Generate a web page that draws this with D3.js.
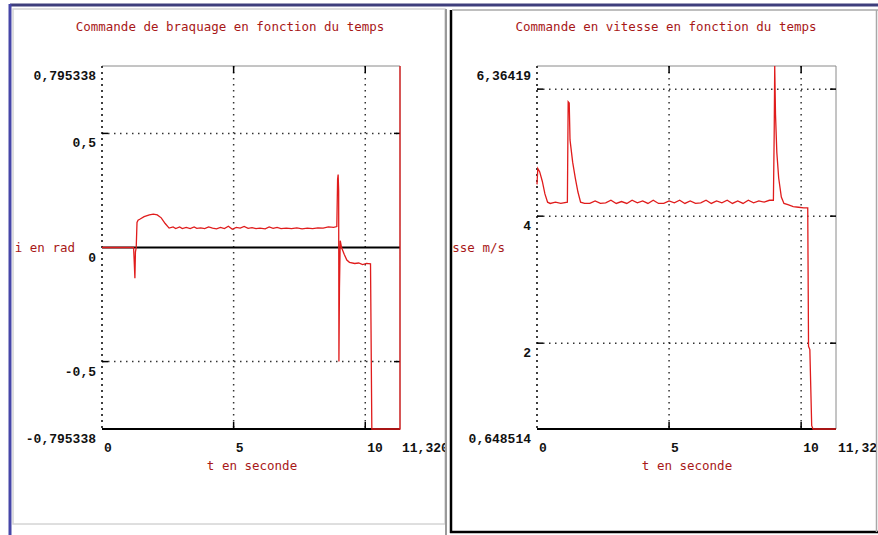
<!DOCTYPE html>
<html>
<head>
<meta charset="utf-8">
<script src="https://cdn.jsdelivr.net/npm/d3@7"></script>
<style>
  body { margin: 0; background: #fff; }
  svg { display: block; }
  .ttl, .lab { font-family: "DejaVu Sans Mono", monospace; font-size: 12.5px; fill: #a81818; }
  .tk { font-family: "Liberation Mono", monospace; font-size: 13px; font-weight: bold; fill: #111; }
</style>
</head>
<body>
<svg id="chart" width="878" height="535"></svg>
<script>
// ---- data ----
const xTicks      = [0, 5, 10, 11.32];
const xTickLabels = ['0', '5', '10', '11,320'];

// left: commande de braquage (rad)
const brqYTicks  = [-0.795338, -0.5, 0, 0.5, 0.795338];
const brqYLabels = ['-0,795338', '-0,5', '0', '0,5', '0,795338'];
const brqGrid    = [-0.5, 0.5];
const brqTime  = [0, 1.2, 1.22, 1.25, 1.27, 1.3, 1.33, 1.37, 1.45, 1.6, 1.8, 1.95, 2.1, 2.25, 2.4, 2.55,
                  2.7, 2.8, 2.95, 3.05, 3.2, 3.35, 3.5, 3.6, 3.75, 3.9, 4.05, 4.2, 4.35, 4.5, 4.65, 4.8,
                  4.95, 5.1, 5.25, 5.4, 5.55, 5.7, 5.85, 6.0, 6.2, 6.35, 6.5, 6.65, 6.8, 7.0, 7.2, 7.4,
                  7.6, 7.8, 8.0, 8.2, 8.4, 8.6, 8.8, 8.92, 8.95, 8.97, 8.99, 9.0, 9.02, 9.05, 9.1, 9.2,
                  9.3, 9.4, 9.6, 9.75, 9.9, 10.05, 10.2, 10.25, 11.32, 11.32];
const brqValue = [0, 0, -0.05, -0.135, -0.02, 0, 0.11, 0.12, 0.125, 0.135, 0.143, 0.146, 0.143, 0.13, 0.105, 0.085,
                  0.09, 0.083, 0.09, 0.083, 0.088, 0.083, 0.09, 0.084, 0.086, 0.083, 0.09, 0.085, 0.082, 0.088, 0.083, 0.093,
                  0.08, 0.088, 0.085, 0.092, 0.084, 0.087, 0.083, 0.085, 0.082, 0.09, 0.084, 0.088, 0.083, 0.085, 0.083, 0.086,
                  0.082, 0.085, 0.083, 0.086, 0.085, 0.09, 0.088, 0.092, 0.3, 0.32, 0.25, -0.5, -0.18, 0.03, 0, -0.03,
                  -0.055, -0.065, -0.07, -0.068, -0.075, -0.07, -0.072, -0.795338, -0.795338, 0.795338];

// right: commande en vitesse (m/s)
const vitYTicks  = [0.648514, 2, 4, 6.36419];
const vitYLabels = ['0,648514', '2', '4', '6,36419'];
const vitGrid    = [2, 4, 6];
const vitTime  = [0, 0.03, 0.1, 0.2, 0.3, 0.4, 0.5, 0.7, 0.9, 1.15, 1.18, 1.22, 1.25, 1.35, 1.45, 1.55, 1.65,
                  1.8, 2.0, 2.2, 2.4, 2.6, 2.8, 3.0, 3.2, 3.4, 3.6, 3.8, 4.0, 4.2, 4.4, 4.6, 4.8, 5.0, 5.2,
                  5.4, 5.6, 5.8, 6.0, 6.2, 6.4, 6.6, 6.8, 7.0, 7.2, 7.4, 7.6, 7.8, 8.0, 8.2, 8.4, 8.6, 8.8,
                  8.95, 8.98, 9.0, 9.03, 9.08, 9.15, 9.25, 9.35, 9.5, 9.7, 9.9, 10.1, 10.25, 10.28, 10.33,
                  10.4, 10.45, 11.32];
const vitValue = [4.5, 4.75, 4.7, 4.55, 4.35, 4.22, 4.2, 4.22, 4.2, 4.22, 5.8, 5.78, 5.2, 4.85, 4.6, 4.38, 4.22,
                  4.2, 4.2, 4.24, 4.2, 4.21, 4.25, 4.2, 4.23, 4.2, 4.25, 4.21, 4.24, 4.2, 4.25, 4.2, 4.2, 4.24, 4.21,
                  4.25, 4.2, 4.24, 4.2, 4.21, 4.25, 4.2, 4.24, 4.21, 4.25, 4.2, 4.24, 4.2, 4.25, 4.21, 4.24, 4.22, 4.25,
                  4.25, 5.3, 6.36419, 5.6, 5.0, 4.6, 4.3, 4.2, 4.18, 4.15, 4.14, 4.13, 4.13, 1.95, 1.9,
                  0.7, 0.648514, 0.648514];

const svg = d3.select('#chart');
const RED = '#e01c1c';

// window frame
svg.append('rect').attr('x', 10).attr('y', 4).attr('width', 868).attr('height', 531).attr('fill', '#fff');
svg.append('line').attr('x1', 10).attr('x2', 878).attr('y1', 5).attr('y2', 5).attr('stroke', '#3e3e7c').attr('stroke-width', 3);
svg.append('line').attr('x1', 10).attr('x2', 10).attr('y1', 4).attr('y2', 535).attr('stroke', '#4646a8').attr('stroke-width', 3);
// left panel border
svg.append('rect').attr('x', 13).attr('y', 9).attr('width', 432).attr('height', 515)
    .attr('fill', 'none').attr('stroke', '#d4d4d4').attr('stroke-width', 1.5);
svg.append('line').attr('x1', 446).attr('x2', 446).attr('y1', 9).attr('y2', 535).attr('stroke', '#9a9a9a').attr('stroke-width', 2);
// right panel border
svg.append('line').attr('x1', 451).attr('x2', 451).attr('y1', 10).attr('y2', 533).attr('stroke', '#000').attr('stroke-width', 2.5);
svg.append('line').attr('x1', 450).attr('x2', 878).attr('y1', 532).attr('y2', 532).attr('stroke', '#000').attr('stroke-width', 2.5);
svg.append('line').attr('x1', 452).attr('x2', 878).attr('y1', 10).attr('y2', 10).attr('stroke', '#a8a8a8').attr('stroke-width', 1.5);
svg.append('line').attr('x1', 876.5).attr('x2', 876.5).attr('y1', 10).attr('y2', 532).attr('stroke', '#a8a8a8').attr('stroke-width', 1.5);

const defs = svg.append('defs');
defs.append('clipPath').attr('id', 'clipL').append('rect').attr('x', 12).attr('y', 0).attr('width', 433).attr('height', 535);
defs.append('clipPath').attr('id', 'clipR').append('rect').attr('x', 453).attr('y', 0).attr('width', 423).attr('height', 535);

function drawPanel(o) {
    const x = d3.scaleLinear().domain([0, 11.32]).range(o.xr);
    const y = d3.scaleLinear().domain(o.yd).range([429, 66]);
    const g = svg.append('g').attr('clip-path', `url(#${o.clip})`);
    const [x0, x1] = o.xr;

    g.append('text').attr('class', 'ttl').attr('x', o.titleX).attr('y', 31)
        .attr('text-anchor', 'middle').text(o.title);

    // frame of plot box
    g.append('line').attr('x1', x0).attr('x2', x1).attr('y1', 66).attr('y2', 66).attr('stroke', '#8a8a8a');
    g.append('line').attr('x1', x1).attr('x2', x1).attr('y1', 66).attr('y2', 429).attr('stroke', '#8a8a8a');
    g.append('line').attr('x1', x0).attr('x2', x0).attr('y1', 66).attr('y2', 429)
        .attr('stroke', '#000').attr('stroke-width', 1.5).attr('stroke-dasharray', '2,4');

    // dotted grid
    g.selectAll('.gx').data([5, 10]).join('line')
        .attr('x1', d => x(d)).attr('x2', d => x(d)).attr('y1', 66).attr('y2', 429)
        .attr('stroke', '#000').attr('stroke-width', 1.5).attr('stroke-dasharray', '1.5,4.5').attr('stroke-opacity', 0.8);
    g.selectAll('.gy').data(o.grid).join('line')
        .attr('x1', x0).attr('x2', x1).attr('y1', d => y(d)).attr('y2', d => y(d))
        .attr('stroke', '#000').attr('stroke-width', 1.5).attr('stroke-dasharray', '1.5,4.5').attr('stroke-opacity', 0.8);
    // small solid ticks
    [5, 10].forEach(t => {
        g.append('line').attr('x1', x(t)).attr('x2', x(t)).attr('y1', 66).attr('y2', 73).attr('stroke', '#000').attr('stroke-width', 1.5);
        g.append('line').attr('x1', x(t)).attr('x2', x(t)).attr('y1', 422).attr('y2', 429).attr('stroke', '#000').attr('stroke-width', 1.5);
    });
    o.grid.forEach(v => {
        g.append('line').attr('x1', x0).attr('x2', x0 + 6).attr('y1', y(v)).attr('y2', y(v)).attr('stroke', '#000').attr('stroke-width', 1.5);
        g.append('line').attr('x1', x1 - 6).attr('x2', x1).attr('y1', y(v)).attr('y2', y(v)).attr('stroke', '#000').attr('stroke-width', 1.5);
    });
    if (o.zero) {
        g.append('line').attr('x1', x0).attr('x2', x1).attr('y1', y(0)).attr('y2', y(0)).attr('stroke', '#000').attr('stroke-width', 2);
    }
    g.append('line').attr('x1', x0).attr('x2', x1).attr('y1', 429).attr('y2', 429).attr('stroke', '#000').attr('stroke-width', 2);

    // tick labels
    g.selectAll('.xl').data(xTicks).join('text').attr('class', 'tk')
        .attr('x', d => x(d) + 2).attr('y', 452).text((d, i) => xTickLabels[i]);
    g.selectAll('.yl').data(o.yTicks).join('text').attr('class', 'tk')
        .attr('x', x0 - 6).attr('y', d => y(d) + 14).attr('text-anchor', 'end').text((d, i) => o.yLabels[i]);

    // axis titles
    g.append('text').attr('class', 'lab').attr('x', o.xLabX).attr('y', 470).attr('text-anchor', 'middle').text('t en seconde');
    g.append('text').attr('class', 'lab').attr('x', o.yLabX).attr('y', 252).attr('text-anchor', 'end').text(o.yLab);

    // series
    const line = d3.line().x(i => x(o.t[i])).y(i => y(o.v[i]));
    g.append('path').attr('d', line(d3.range(o.t.length)))
        .attr('fill', 'none').attr('stroke', RED).attr('stroke-width', 1.3);
}

drawPanel({
    xr: [102, 400], yd: [-0.795338, 0.795338], clip: 'clipL',
    title: 'Commande de braquage en fonction du temps', titleX: 230,
    grid: brqGrid, zero: true, yTicks: brqYTicks, yLabels: brqYLabels,
    xLabX: 252, yLab: 'i en rad', yLabX: 75, t: brqTime, v: brqValue
});
drawPanel({
    xr: [537, 836], yd: [0.648514, 6.36419], clip: 'clipR',
    title: 'Commande en vitesse en fonction du temps', titleX: 666,
    grid: vitGrid, zero: false, yTicks: vitYTicks, yLabels: vitYLabels,
    xLabX: 687, yLab: 'vitesse m/s', yLabX: 505, t: vitTime, v: vitValue
});
</script>
</body>
</html>
